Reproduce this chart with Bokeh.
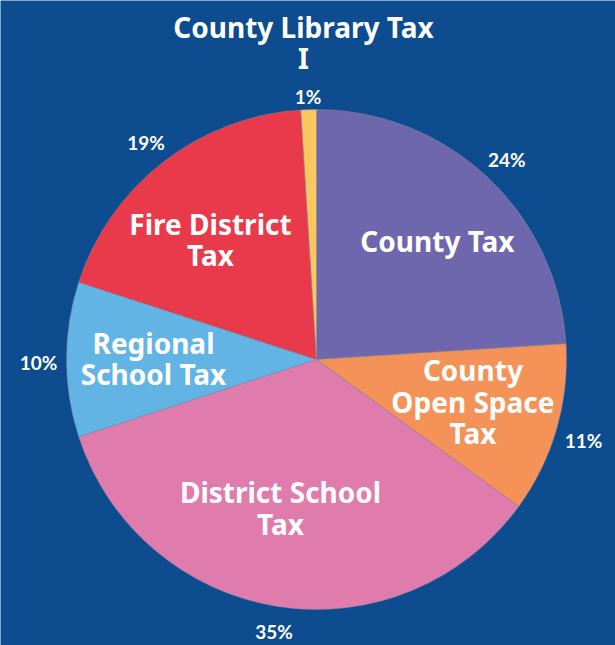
import math
from bokeh.plotting import figure
from bokeh.models import Range1d, ColumnDataSource
from bokeh.core.properties import value
from bokeh.embed import file_html
from bokeh.resources import INLINE

# ---- data ----
categories = ["County Tax", "County Open Space Tax", "District School Tax",
              "Regional School Tax", "Fire District Tax", "County Library Tax"]
inner_labels = ["County Tax", "County\nOpen Space\nTax", "District School\nTax",
                "Regional\nSchool Tax", "Fire District\nTax", ""]
shares = [24, 11, 35, 10, 19, 1]
pct_labels = ["24%", "11%", "35%", "10%", "19%", "1%"]
colors = ["#6f67ad", "#f59257", "#e07bae", "#62b4e5", "#e83a4b", "#f9c660"]
title_text = "County Library Tax\nI"

BG = "#0c4c8f"
W, H = 615, 645
# data coordinates = screen pixels (y flipped)
cx, cy = 316, H - 359
R = 250

p = figure(width=W, height=H, output_backend="svg", toolbar_location=None,
           x_range=Range1d(0, W), y_range=Range1d(0, H),
           min_border=0, background_fill_color=BG, border_fill_color=BG)
p.axis.visible = False
p.grid.visible = False
p.outline_line_color = None

total = float(sum(shares))
starts, ends, mids = [], [], []
cum = 0.0
for s in shares:
    a_start = math.pi / 2 - 2 * math.pi * (cum + s) / total
    a_end = math.pi / 2 - 2 * math.pi * cum / total
    starts.append(a_start)
    ends.append(a_end)
    mids.append((a_start + a_end) / 2)
    cum += s

src = ColumnDataSource(dict(start=starts, end=ends, color=colors, name=categories))
p.wedge(x=cx, y=cy, radius=R, start_angle="start", end_angle="end",
        fill_color="color", line_color="#8a8a9a", line_width=0.5, source=src)

# inner labels (radius and small angular nudge, degrees)
ri = [169, 162, 153, 163, 160, 0]
da = [-2.5, 1.1, -4.6, -0.4, 3.7, 0]
ix = [cx + r * math.cos(m + math.radians(d)) for r, m, d in zip(ri, mids, da)]
iy = [cy + r * math.sin(m + math.radians(d)) for r, m, d in zip(ri, mids, da)]
p.text(x=ix, y=iy, text=inner_labels, text_align="center", text_baseline="middle",
       text_color="white", text_font=value("Noto Sans"), text_font_style="bold",
       text_font_size="28px", text_line_height=0.83)

# percentage labels
ro = [278, 278, 272, 278, 278, 266]
px = [cx + r * math.cos(m) for r, m in zip(ro, mids)]
py = [cy + r * math.sin(m) - 3 for r, m in zip(ro, mids)]
p.text(x=px, y=py, text=pct_labels, text_align="center", text_baseline="middle",
       text_color="white", text_font=value("Lato"), text_font_style="bold",
       text_font_size="19px")

# top label for the small slice
p.text(x=[303], y=[H - 42], text=[title_text], text_align="center",
       text_baseline="middle", text_color="white", text_font=value("Noto Sans"),
       text_font_style="bold", text_font_size="28px", text_line_height=0.8)

html = file_html(p, INLINE)
html = html.replace("<body>", '<body style="background:%s;">' % BG, 1)
open("out.html", "w").write(html)
